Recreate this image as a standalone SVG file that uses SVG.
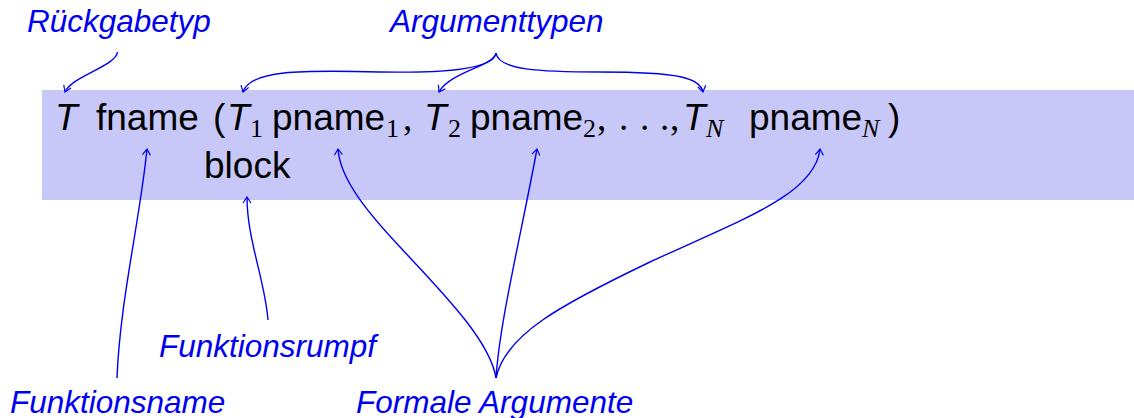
<svg xmlns="http://www.w3.org/2000/svg" width="1134" height="418" viewBox="0 0 1134 418">
<defs>
<style>
.lbl{font-family:"Liberation Sans",Arial,sans-serif;font-style:italic;font-size:31.5px;fill:#0000f0}
.code{font-family:"Liberation Sans",Arial,sans-serif;font-size:37px;fill:#000}
.it{font-style:italic}
.math{font-family:"Liberation Serif","Times New Roman",serif;font-size:37px;fill:#000}
.sub{font-family:"Liberation Serif","Times New Roman",serif;font-size:26px;fill:#000}
.conn path{fill:none;stroke:#0000f0;stroke-width:1.4}
</style>
<marker id="ah" markerUnits="userSpaceOnUse" markerWidth="14" markerHeight="14" refX="0" refY="0" viewBox="-8 -7 10 14" orient="auto" overflow="visible">
<path d="M-6,-4 Q-1.5,-1 0,0 Q-1.5,1 -6,4" fill="none" stroke="#0000f0" stroke-width="1.2"/>
</marker>
</defs>
<rect width="1134" height="418" fill="#fff"/>
<g id="codebox">
<rect x="42" y="90" width="1092" height="110" fill="#c8c8f8"/>
<text class="code it" x="55" y="130">T</text>
<text class="code" x="96" y="130">fname</text>
<text class="code" x="213" y="130">(</text>
<text class="code it" x="227" y="130">T</text>
<text class="sub" x="250" y="137">1</text>
<text class="code" x="272" y="130">pname</text>
<text class="sub" x="386" y="137">1</text>
<text class="math" x="403" y="130">,</text>
<text class="code it" x="424" y="130">T</text>
<text class="sub" x="448" y="137">2</text>
<text class="code" x="470" y="130">pname</text>
<text class="sub" x="583" y="137">2</text>
<text class="math" x="597" y="130">,</text>
<text class="math" x="619" y="130">.</text>
<text class="math" x="640" y="130">.</text>
<text class="math" x="660" y="130">.</text>
<text class="math" x="670" y="130">,</text>
<text class="code it" x="683" y="130">T</text>
<text class="sub it" x="706" y="137">N</text>
<text class="code" x="749" y="130">pname</text>
<text class="sub it" x="862" y="137">N</text>
<text class="code" x="888" y="130">)</text>
<text class="code" x="204" y="178">block</text>
</g>
<g id="label-rueckgabetyp"><text class="lbl" x="27" y="32">Rückgabetyp</text></g>
<g id="label-argumenttypen"><text class="lbl" x="390" y="32">Argumenttypen</text></g>
<g id="label-funktionsrumpf"><text class="lbl" x="159" y="357">Funktionsrumpf</text></g>
<g id="label-funktionsname"><text class="lbl" x="10" y="413">Funktionsname</text></g>
<g id="label-formale"><text class="lbl" x="356" y="413">Formale Argumente</text></g>
<g id="connectors" class="conn">
<path d="M117.5,52 C116,66 72,76 65,92" marker-end="url(#ah)"/>
<path d="M496,53 C494,70 440,73 380,72 C300,70 250,70 243,92" marker-end="url(#ah)"/>
<path d="M496,53 C494,66 450,72 439,92" marker-end="url(#ah)"/>
<path d="M496,53 C498,70 540,72 600,72 C680,72 700,78 703,92" marker-end="url(#ah)"/>
<path d="M117,378 C120,300 140,220 147,149" marker-end="url(#ah)"/>
<path d="M268,320 C265,280 247,240 247,197" marker-end="url(#ah)"/>
<path d="M496,378 C490,340 440,290 400,247 C370,215 340,180 338,149" marker-end="url(#ah)"/>
<path d="M496,378 C500,320 520,240 537,149" marker-end="url(#ah)"/>
<path d="M496,378 C505,335 560,305 650,262 C740,220 815,195 820,149" marker-end="url(#ah)"/>
</g>
</svg>
